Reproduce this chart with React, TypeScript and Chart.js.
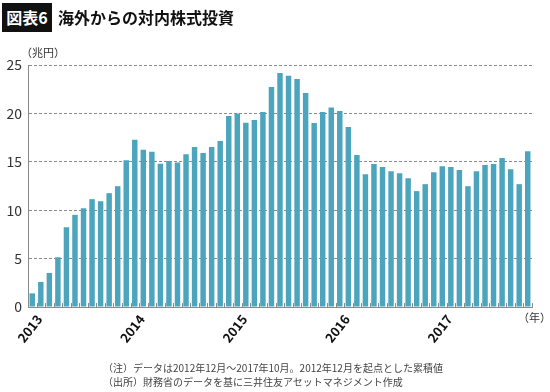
import React, { useEffect, useRef } from 'react';
import { Chart, registerables } from 'chart.js';

Chart.register(...registerables);

const months: string[] = [
  '2012-12',
  '2013-01', '2013-02', '2013-03', '2013-04', '2013-05', '2013-06', '2013-07', '2013-08', '2013-09', '2013-10', '2013-11', '2013-12',
  '2014-01', '2014-02', '2014-03', '2014-04', '2014-05', '2014-06', '2014-07', '2014-08', '2014-09', '2014-10', '2014-11', '2014-12',
  '2015-01', '2015-02', '2015-03', '2015-04', '2015-05', '2015-06', '2015-07', '2015-08', '2015-09', '2015-10', '2015-11', '2015-12',
  '2016-01', '2016-02', '2016-03', '2016-04', '2016-05', '2016-06', '2016-07', '2016-08', '2016-09', '2016-10', '2016-11', '2016-12',
  '2017-01', '2017-02', '2017-03', '2017-04', '2017-05', '2017-06', '2017-07', '2017-08', '2017-09', '2017-10',
];

const cumulativeInvestment: number[] = [
  1.41, 2.59, 3.52, 5.14, 8.24, 9.52, 10.2, 11.14, 10.93, 11.76,
  12.48, 15.17, 17.28, 16.24, 16.03, 14.79, 15.07, 14.93, 15.79, 16.52,
  15.9, 16.52, 17.14, 19.72, 20.0, 19.03, 19.31, 20.14, 22.72, 24.17,
  23.9, 23.55, 22.1, 19.0, 20.14, 20.62, 20.24, 18.59, 15.69, 13.72,
  14.76, 14.45, 14.03, 13.83, 13.31, 11.97, 12.69, 13.93, 14.55, 14.45,
  14.14, 12.48, 14.03, 14.66, 14.76, 15.38, 14.24, 12.69, 16.1,
];

const yearTickLabels: string[] = ['2013', '2014', '2015', '2016', '2017'];
const yTicks: number[] = [0, 5, 10, 15, 20, 25];

const FONT = '"Noto Sans CJK JP", "Noto Sans", sans-serif';
const BAR_COLOR = '#4da5bd';
const AXIS_COLOR = '#8a8a8a';

const monthTickPlugin = {
  id: 'monthTicks',
  afterDraw(chart: any) {
    const x = chart.scales.x;
    const area = chart.chartArea;
    const ctx = chart.ctx;
    ctx.save();
    ctx.strokeStyle = AXIS_COLOR;
    ctx.lineWidth = 1;
    for (let i = 0; i <= months.length; i++) {
      const px = Math.round(x.getPixelForValue(i - 0.5)) + 0.5;
      ctx.beginPath();
      ctx.moveTo(px, area.bottom - 4);
      ctx.lineTo(px, area.bottom);
      ctx.stroke();
    }
    ctx.restore();
    // year labels, rotated, anchored at January of each year
    months.forEach((m, i) => {
      if (!m.endsWith('-01')) return;
      const y = m.slice(0, 4);
      if (!yearTickLabels.includes(y)) return;
      const px = x.getPixelForValue(i);
      ctx.save();
      ctx.fillStyle = '#111';
      ctx.font = 'bold 13px ' + FONT;
      ctx.textAlign = 'right';
      ctx.textBaseline = 'middle';
      ctx.translate(px - 1.5, area.bottom + 9.5);
      ctx.rotate((-52 * Math.PI) / 180);
      ctx.fillText(y, 0, 0);
      ctx.restore();
    });
  },
};

export default function App() {
  const canvasRef = useRef<HTMLCanvasElement | null>(null);

  useEffect(() => {
    document.body.style.margin = '0';
    const canvas = canvasRef.current;
    if (!canvas) return;
    const chart = new Chart(canvas, {
      type: 'bar',
      data: {
        labels: months,
        datasets: [
          {
            data: cumulativeInvestment,
            backgroundColor: BAR_COLOR,
            borderWidth: 0,
            barPercentage: 0.64,
            categoryPercentage: 1,
          },
        ],
      },
      plugins: [monthTickPlugin],
      options: {
        responsive: false,
        animation: false,
        devicePixelRatio: 1,
        layout: { padding: { top: 65, right: 18, bottom: 0, left: 0 } },
        plugins: {
          legend: { display: false },
          tooltip: { enabled: false },
          title: { display: false },
        },
        scales: {
          x: {
            type: 'category',
            offset: true,
            grid: { display: false, drawOnChartArea: false, drawTicks: false },
            border: { display: true, color: AXIS_COLOR, width: 1 },
            ticks: { display: false },
            afterFit: (scale: any) => {
              scale.height = 85;
            },
          },
          y: {
            min: 0,
            max: 25,
            afterBuildTicks: (scale: any) => {
              scale.ticks = yTicks.map((v) => ({ value: v }));
            },
            grid: {
              drawTicks: false,
              color: (c: any) => (c.tick && c.tick.value === 0 ? 'rgba(0,0,0,0)' : '#8c8c8c'),
              lineWidth: 1,
            },
            border: { display: true, color: AXIS_COLOR, width: 1, dash: [3, 2] },
            ticks: {
              padding: 6,
              color: '#333',
              font: { family: FONT, size: 14 },
            },
            afterFit: (scale: any) => {
              scale.width = 28;
            },
          },
        },
      } as any,
    });
    return () => chart.destroy();
  }, []);

  return (
    <div style={{ position: 'relative', width: 550, height: 392, background: '#fff', overflow: 'hidden', fontFamily: FONT }}>
      <canvas ref={canvasRef} width={550} height={392} style={{ position: 'absolute', left: 0, top: 0, width: 550, height: 392 }} />
      <div style={{ position: 'absolute', left: 2, top: 3, width: 50, height: 29, background: '#111', color: '#fff', fontWeight: 'bold', fontSize: 16, lineHeight: '29px', textAlign: 'center' }}>
        図表6
      </div>
      <div style={{ position: 'absolute', left: 58, top: 3, height: 29, color: '#111', fontWeight: 'bold', fontSize: 16, lineHeight: '29px', whiteSpace: 'nowrap' }}>
        海外からの対内株式投資
      </div>
      <div style={{ position: 'absolute', left: 21, top: 45, color: '#333', fontSize: 11, lineHeight: '14px', whiteSpace: 'nowrap' }}>
        （兆円）
      </div>
      <div style={{ position: 'absolute', left: 518, top: 310, color: '#333', fontSize: 11, lineHeight: '14px', whiteSpace: 'nowrap' }}>
        （年）
      </div>
      <div style={{ position: 'absolute', left: 103, top: 361, color: '#444', fontSize: 10, lineHeight: '14px', whiteSpace: 'nowrap' }}>
        （注）データは2012年12月～2017年10月。2012年12月を起点とした累積値
        <br />
        （出所）財務省のデータを基に三井住友アセットマネジメント作成
      </div>
    </div>
  );
}
